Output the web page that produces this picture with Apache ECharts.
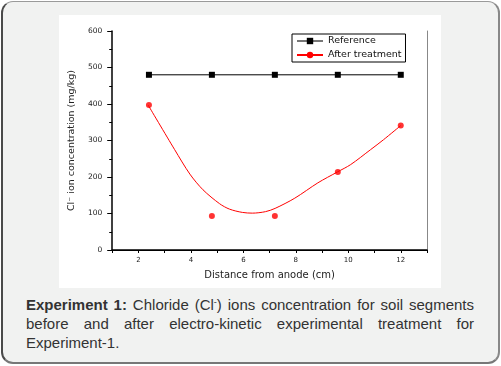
<!DOCTYPE html>
<html>
<head>
<meta charset="utf-8">
<script src="https://cdn.jsdelivr.net/npm/echarts@6/dist/echarts.min.js"></script>
<style>
  html, body { margin:0; padding:0; width:501px; height:366px; background:#ffffff; overflow:hidden; }
  #frame { position:absolute; left:1px; top:1px; width:495px; height:360px; background:#f1f2f1;
           border:1px solid #9a9a9a; border-left:2px solid #4a4a4a; border-bottom:2px solid #777; border-right:2px solid #888;
           border-radius:12px; }
  #chart { position:absolute; left:59px; top:15px; width:382px; height:273px; background:#ffffff; }
  #caption { position:absolute; left:26px; top:295px; width:448px; font-family:"Liberation Sans", Arial, sans-serif;
             font-size:15px; line-height:19px; color:#333; text-align:justify; letter-spacing:0px; }
  #caption sup { font-size:9px; vertical-align:5px; line-height:0; }
</style>
</head>
<body>
<div id="frame"></div>
<div id="chart"></div>
<div id="caption"><b>Experiment 1:</b> Chloride (Cl<sup>-</sup>) ions concentration for soil segments before and after electro-kinetic experimental treatment for Experiment-1.</div>
<script>
// Data
const distances = [2.4, 4.8, 7.2, 9.6, 12];
const referenceValues = [480, 480, 480, 480, 480];
const afterValues = [397, 93, 93, 214, 341];
// fitted curve
const curveX = [2.37, 3.38, 3.96, 4.46, 5.09, 5.47, 5.96, 6.34, 6.84, 7.21, 7.96, 8.84, 9.59, 10.09, 10.85, 11.34, 12.0];
const curveY = [397, 275, 208, 165, 127, 112, 103, 101, 105, 114, 142, 184, 214, 234, 275, 302, 341];
const xTicks = [2, 4, 6, 8, 10, 12];
const yTicks = [0, 100, 200, 300, 400, 500, 600];

const pair = (xs, ys) => xs.map((x, i) => [x, ys[i]]);
const FONT = 'DejaVu Sans';

const chart = echarts.init(document.getElementById('chart'), null, { renderer: 'canvas' });
chart.setOption({
  animation: false,
  grid: { left: 49, top: 16, right: 14, bottom: 38, show: false },
  legend: {
    orient: 'vertical', left: 233, top: 19,
    data: [
      { name: 'Reference', lineStyle: { color: '#777' } },
      { name: 'After treatment' }
    ],
    borderColor: '#000', borderWidth: 1, padding: [2, 4, 2, 4],
    itemWidth: 26, itemHeight: 8, itemGap: 4,
    textStyle: { fontFamily: FONT, fontSize: 9.5, color: '#111' }
  },
  xAxis: [{
    type: 'value', min: 1, max: 13, interval: 1,
    name: 'Distance from anode (cm)', nameLocation: 'middle', nameGap: 20,
    nameTextStyle: { fontFamily: FONT, fontSize: 10, color: '#222' },
    axisLine: { show: true, onZero: false, lineStyle: { color: '#000', width: 1.5 } },
    axisTick: { show: true, length: 3, lineStyle: { color: '#000' } },
    axisLabel: { margin: 7, fontFamily: FONT, fontSize: 7, color: '#222',
      formatter: v => (xTicks.indexOf(v) >= 0 ? String(v) : '') },
    splitLine: { show: false }
  }, {
    type: 'value', position: 'top', min: 1, max: 13, interval: 1,
    axisLine: { show: true, lineStyle: { color: '#000', width: 1 } },
    axisTick: { show: false }, axisLabel: { show: false }, splitLine: { show: false }
  }],
  yAxis: [{
    type: 'value', min: 0, max: 600, interval: 100,
    name: 'Cl\u207B ion concentration (mg/kg)', nameLocation: 'middle', nameGap: 34,
    nameTextStyle: { fontFamily: FONT, fontSize: 9.5, color: '#222' },
    axisLine: { show: true, onZero: false, lineStyle: { color: '#000', width: 1.5 } },
    axisTick: { show: true, length: 5, lineStyle: { color: '#000' } },
    minorTick: { show: true, splitNumber: 2, length: 3, lineStyle: { color: '#000' } },
    axisLabel: { margin: 10, fontFamily: FONT, fontSize: 7.5, color: '#222',
      formatter: v => (yTicks.indexOf(v) >= 0 ? String(v) : '') },
    splitLine: { show: false }
  }, {
    type: 'value', position: 'right', min: 0, max: 600, interval: 100,
    axisLine: { show: true, lineStyle: { color: '#888', width: 1 } },
    axisTick: { show: false }, axisLabel: { show: false }, splitLine: { show: false }
  }],
  series: [
    {
      name: 'Reference', type: 'line', data: pair(distances, referenceValues),
      symbol: 'rect', symbolSize: 6, showSymbol: true,
      lineStyle: { color: '#000', width: 1 }, itemStyle: { color: '#000' }
    },
    {
      name: 'After treatment', type: 'line', data: pair(curveX, curveY),
      smooth: 0.3, symbol: 'circle', symbolSize: 6, showSymbol: false,
      lineStyle: { color: '#ff0000', width: 1 }, itemStyle: { color: '#ff0000' }
    },
    {
      name: 'After treatment points', type: 'scatter', data: pair(distances, afterValues),
      symbol: 'circle', symbolSize: 6, itemStyle: { color: '#ff0000' }
    }
  ]
});
</script>
</body>
</html>
